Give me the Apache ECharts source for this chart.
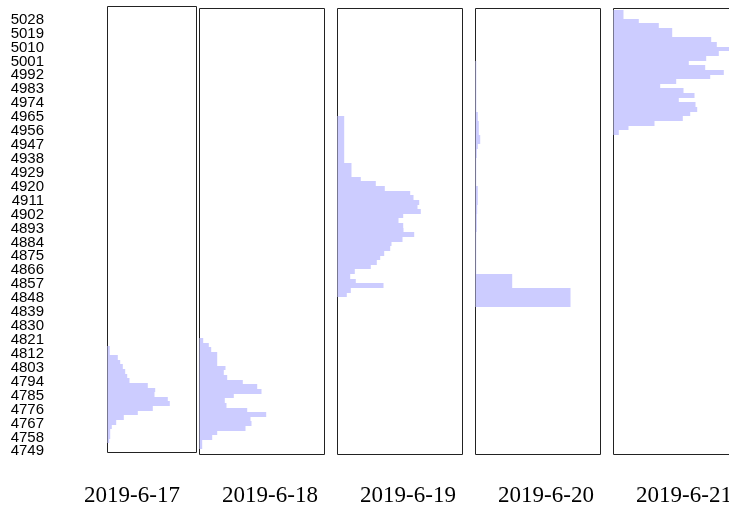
<!DOCTYPE html>
<html>
<head>
<meta charset="utf-8">
<script src="https://cdn.jsdelivr.net/npm/echarts@6/dist/echarts.min.js"></script>
<style>
html, body { margin: 0; padding: 0; background: #fff; }
#main { width: 729px; height: 506px; }
</style>
</head>
<body>
<div id="main"></div>
<script>
// 每个面板下方的日期
var dates = ['2019-6-17', '2019-6-18', '2019-6-19', '2019-6-20', '2019-6-21'];
// 价格轴刻度：4749 到 5028，每格 9
var priceMin = 4749, priceMax = 5028, priceStep = 9;
// 每一行柱子覆盖 3 个价位
var binSize = 3;
// 每天最低一行的起始价格
var binStarts = [4754.2, 4750.3, 4848.5, 4842.5, 4953.5];
// 每天各价位的成交量，从低价往高价排
var vol0 = [1.7, 2.7, 2.7, 4.3, 8.7, 16.3, 30.3, 45.3, 62.3, 60.3, 47, 47.7, 40.3, 22, 19.7, 17.7, 15.3, 12.7, 10.3, 2.3, 2.3];
var vol1 = [2.7, 2.7, 12.7, 17.7, 46, 52, 51, 66.7, 47.7, 27, 25.3, 34.3, 62, 57.7, 43.3, 27.7, 24.3, 26, 17.7, 17.7, 17.7, 11.7, 9.3, 3.7];
var vol2 = [9.3, 13.3, 46, 18.3, 12.7, 17.3, 33.3, 39.3, 42.7, 46.7, 52.7, 54, 65, 76.7, 66, 65.7, 61, 65.7, 83.3, 80, 81.7, 76, 72.7, 47.3, 38.3, 23.3, 14, 14, 14,
            6.7, 6.7, 6.7, 6.7, 6.7, 6.7, 6.7, 6.7, 6.7, 6.7];
var vol3 = [95, 95, 95, 95, 36.7, 36.7, 36.7, 0.7, 0.7, 0.7, 0.7, 0.7, 0.7, 0.7, 0.7, 0.7, 1.3, 1.3, 1.3, 1.3, 1.7, 1.7, 2.3, 2.3, 2.3, 2.3,
            0.7, 0.7, 0.7, 0.7, 0.7, 0.7, 1.3, 1.3, 2.3, 4.7, 4.7, 3.3, 3.3, 3.3, 2.3, 2.3, 0.8, 0.8, 0.8, 0.8, 0.8, 0.8, 0.8, 0.8, 0.8, 0.8, 0.8];
var vol4 = [5.3, 15, 41, 69.3, 76.7, 83.7, 82, 65.3, 81, 70, 46.7, 62.7, 96.7, 110.3, 91.7, 75.3, 92.7, 105.3, 120, 103.3, 97.7, 58.7, 58.7, 45.3, 25.3, 10, 10];
var volumes = [vol0, vol1, vol2, vol3, vol4];

// 面板的位置 [left, top, width, height]
var boxes = [
    [107.5, 6.5, 89, 446],
    [199.5, 8.5, 125, 446],
    [337.5, 8.5, 125, 446],
    [475.5, 8.5, 125, 446],
    [613.5, 8.5, 126, 446]
];
// 价格轴标签的像素位置：priceMax 在 labelTop，priceMin 在 labelBottom
var labelTop = 19.6, labelBottom = 451.3;
var pxPerPrice = (labelBottom - labelTop) / (priceMax - priceMin);
var stepPx = priceStep * pxPerPrice;

function renderBars(params, api) {
    var lo = api.value(0), hi = api.value(1), v = api.value(2);
    var a = api.coord([0, hi]);
    var b = api.coord([v, lo]);
    // 取整，避免相邻两行之间出现白缝
    var y0 = Math.round(a[1]), y1 = Math.round(b[1]);
    return {
        type: 'rect',
        shape: { x: a[0], y: y0, width: b[0] - a[0], height: y1 - y0 },
        style: { fill: '#ccccff' }
    };
}

var grid = [], xAxis = [], yAxis = [], series = [];

// 左边只显示价格标签的坐标系，上下各多留一格，两端那格的标签不显示
grid.push({
    left: 50, top: labelTop - stepPx, width: 1, height: labelBottom - labelTop + 2 * stepPx,
    show: false, outerBoundsMode: 'none', containLabel: false
});
xAxis.push({ type: 'value', gridIndex: 0, show: false });
yAxis.push({
    type: 'value', gridIndex: 0, min: priceMin - priceStep, max: priceMax + priceStep, interval: priceStep,
    axisLine: { show: false }, axisTick: { show: false }, splitLine: { show: false },
    axisLabel: {
        margin: 6, color: '#000', fontSize: 15, fontFamily: 'Liberation Sans',
        showMinLabel: false, showMaxLabel: false, hideOverlap: false,
        formatter: function (v) { return String(Math.round(v)); }
    }
});

// 下方日期
grid.push({ left: 63, top: 480, width: 690, height: 1, show: false, outerBoundsMode: 'none', containLabel: false });
xAxis.push({
    type: 'category', gridIndex: 1, data: dates,
    axisLine: { show: false }, axisTick: { show: false },
    axisLabel: { margin: 3, color: '#000', fontSize: 23, fontFamily: 'Liberation Serif', interval: 0, hideOverlap: false }
});
yAxis.push({ type: 'value', gridIndex: 1, show: false });

// 每天一个面板
boxes.forEach(function (b, i) {
    var gi = grid.length;
    grid.push({
        left: b[0], top: b[1], width: b[2], height: b[3],
        show: true, borderColor: '#222', borderWidth: 1, backgroundColor: 'transparent',
        outerBoundsMode: 'none', containLabel: false
    });
    xAxis.push({ type: 'value', gridIndex: gi, min: 0, max: b[2], show: false });
    yAxis.push({
        type: 'value', gridIndex: gi, show: false,
        min: priceMin - (b[1] + b[3] - labelBottom) / pxPerPrice,
        max: priceMax + (labelTop - b[1]) / pxPerPrice
    });
    var data = volumes[i].map(function (v, k) {
        var lo = binStarts[i] + k * binSize;
        return [lo, lo + binSize, v];
    });
    series.push({
        type: 'custom', xAxisIndex: gi, yAxisIndex: gi,
        renderItem: renderBars, data: data,
        encode: { x: 2, y: [0, 1] }, silent: true
    });
});

var myChart = echarts.init(document.getElementById('main'));
myChart.setOption({
    animation: false,
    backgroundColor: '#fff',
    grid: grid,
    xAxis: xAxis,
    yAxis: yAxis,
    series: series
});
</script>
</body>
</html>
